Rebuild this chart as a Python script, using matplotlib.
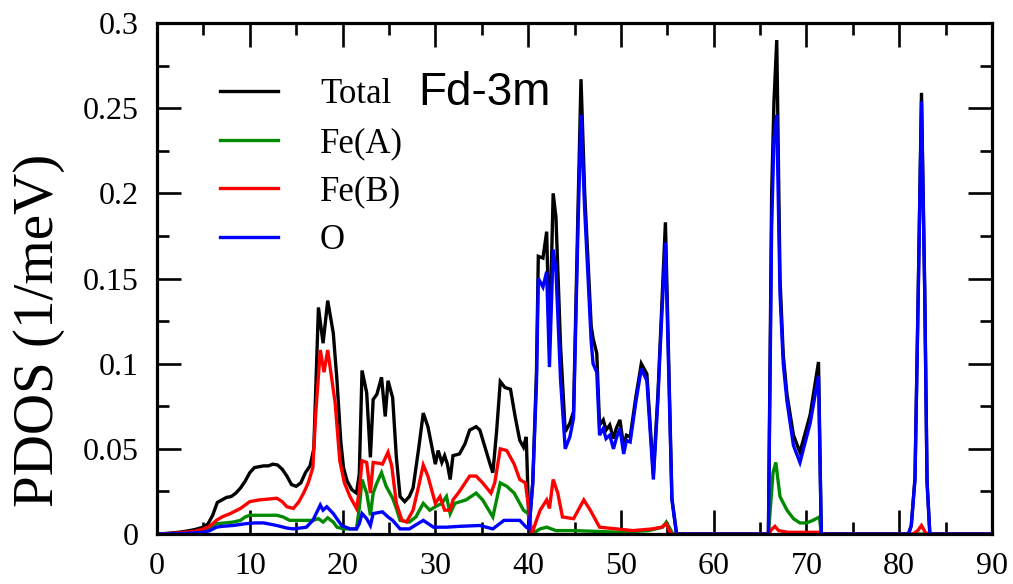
import matplotlib
matplotlib.use("Agg")
import matplotlib.pyplot as plt
from matplotlib.ticker import MultipleLocator, FuncFormatter

# Phonon partial density of states, Fd-3m magnetite
total_x = [0, 1, 2, 3, 4, 5, 5.5, 6, 6.5, 7, 7.5, 8, 8.5, 9, 9.5, 10, 10.5, 11, 11.5, 12,
           12.5, 13, 13.5, 14, 14.5, 15, 15.5, 16, 16.5, 16.9, 17.4, 17.9, 18.4, 19.0, 19.4,
           19.8, 20.1, 20.5, 21.0, 21.5, 21.8, 22.1, 22.6, 23.0, 23.3, 23.7, 24.2, 24.6, 24.9,
           25.4, 25.8, 26.2, 26.7, 27.2, 27.6, 28.2, 28.7, 29.2, 29.6, 30.0, 30.3, 30.7, 31.0,
           31.3, 31.6, 31.9, 32.6, 33.2, 33.7, 34.4, 34.8, 35.4, 35.9, 36.2, 36.6, 37.0, 37.5,
           38.1, 38.6, 39.1, 39.5, 39.8, 40.1, 40.5, 40.9, 41.1, 41.6, 42.0, 42.3, 42.7, 43.0,
           43.5, 44.0, 44.5, 44.9, 45.4, 45.7, 46.1, 46.8, 47.0, 47.4, 47.7, 48.1, 48.4, 48.8,
           49.2, 49.5, 49.9, 50.3, 50.6, 51.0, 51.6, 52.2, 52.8, 53.5, 54.0, 54.2, 54.8, 55.5,
           56.0, 65.9, 66.25, 66.5, 66.8, 67.15, 67.5, 67.9, 68.6, 69.3, 70.4, 71.3, 71.6,
           81.0, 81.3, 81.7, 82.05, 82.4, 82.75, 83.0, 83.3, 90]
total_y = [0, 0.0003, 0.0008, 0.0015, 0.0025, 0.004, 0.006, 0.011, 0.0185, 0.020, 0.0215,
           0.022, 0.024, 0.027, 0.031, 0.036, 0.039, 0.0395, 0.040, 0.040, 0.041, 0.0405,
           0.038, 0.034, 0.029, 0.028, 0.030, 0.036, 0.040, 0.050, 0.133, 0.112, 0.137,
           0.118, 0.090, 0.055, 0.039, 0.031, 0.026, 0.024, 0.035, 0.096, 0.083, 0.045,
           0.079, 0.082, 0.092, 0.069, 0.090, 0.080, 0.045, 0.022, 0.019, 0.022, 0.027,
           0.050, 0.071, 0.063, 0.052, 0.041, 0.049, 0.042, 0.046, 0.041, 0.032, 0.046,
           0.047, 0.053, 0.061, 0.063, 0.061, 0.050, 0.041, 0.036, 0.060, 0.0895, 0.086,
           0.085, 0.069, 0.055, 0.051, 0.057, 0.003, 0.030, 0.095, 0.163, 0.162, 0.1775,
           0.110, 0.200, 0.186, 0.110, 0.060, 0.065, 0.072, 0.196, 0.267, 0.200, 0.122,
           0.115, 0.106, 0.064, 0.067, 0.061, 0.064, 0.056, 0.062, 0.067, 0.051, 0.058,
           0.057, 0.080, 0.100, 0.094, 0.035, 0.083, 0.108, 0.183, 0.021, 0, 0, 0.200,
           0.254, 0.290, 0.150, 0.105, 0.082, 0.058, 0.048, 0.070, 0.101, 0, 0, 0.005,
           0.033, 0.143, 0.259, 0.143, 0.031, 0, 0]

feA_x = [0, 3, 5, 5.7, 6.4, 8.2, 9, 9.5, 10, 12.9, 13.6, 14.3, 15.4, 16.8, 17.4, 17.9, 18.4,
         19.0, 19.4, 20.1, 21.5, 21.8, 22.1, 22.6, 23.0, 23.3, 23.7, 24.2, 24.7, 25.4, 25.8,
         26.2, 27.2, 27.9, 28.7, 29.4, 30.0, 30.7, 31.2, 31.6, 32.1, 33.3, 34.4, 35.1, 36.2,
         37.0, 37.7, 38.5, 39.5, 40.0, 40.4, 41.3, 42.0, 43.0, 45.0, 50.0, 53.0, 54.5, 54.9,
         55.6, 65.9, 66.4, 66.7, 67.15, 67.9, 68.6, 69.3, 70.0, 70.7, 71.4, 71.6, 90]
feA_y = [0, 0.0005, 0.002, 0.0035, 0.006, 0.007, 0.008, 0.010, 0.011, 0.011, 0.010, 0.008,
         0.008, 0.008, 0.009, 0.007, 0.0095, 0.007, 0.004, 0.003, 0.003, 0.015, 0.032,
         0.024, 0.011, 0.024, 0.030, 0.036, 0.028, 0.021, 0.015, 0.008, 0.007, 0.010,
         0.018, 0.014, 0.016, 0.018, 0.022, 0.012, 0.018, 0.020, 0.024, 0.020, 0.010,
         0.030, 0.028, 0.024, 0.014, 0.012, 0.0, 0.003, 0.004, 0.002, 0.002, 0.001,
         0.002, 0.004, 0.007, 0, 0, 0.036, 0.042, 0.022, 0.014, 0.009, 0.0065, 0.0065,
         0.008, 0.010, 0, 0]

feB_x = [0, 2, 4, 5, 5.5, 6, 6.4, 7, 7.9, 9, 10, 11, 12, 12.9, 13.5, 14, 14.7, 15.3, 15.8,
         16.3, 16.8, 17.1, 17.6, 18.0, 18.4, 19.2, 19.7, 20.2, 20.8, 21.5, 21.8, 22.1, 22.6,
         23.0, 23.3, 24.0, 24.3, 24.9, 25.3, 25.8, 26.4, 26.9, 27.6, 28.2, 28.7, 29.2, 30.0,
         30.5, 31.0, 31.6, 31.9, 32.6, 33.7, 34.4, 35.1, 36.0, 36.4, 37.0, 37.7, 38.5, 39.1,
         39.7, 40.0, 40.4, 40.9, 41.3, 42.0, 42.3, 42.7, 43.2, 43.7, 44.9, 45.5, 46.0, 46.7,
         47.7, 49.5, 51.3, 53.4, 54.4, 54.9, 55.4, 65.9, 66.3, 66.6, 67.0, 68.0, 71.5, 71.6,
         81.5, 82.0, 82.4, 82.8, 83.2, 90]
feB_y = [0, 0.0005, 0.0015, 0.003, 0.004, 0.006, 0.008, 0.010, 0.012, 0.015, 0.019, 0.020,
         0.0205, 0.021, 0.019, 0.016, 0.015, 0.019, 0.024, 0.030, 0.039, 0.070, 0.108,
         0.095, 0.108, 0.077, 0.043, 0.030, 0.022, 0.015, 0.025, 0.043, 0.042, 0.024,
         0.042, 0.0415, 0.041, 0.048, 0.040, 0.018, 0.008, 0.007, 0.014, 0.028, 0.0405,
         0.034, 0.018, 0.022, 0.014, 0.014, 0.020, 0.025, 0.034, 0.034, 0.030, 0.024,
         0.030, 0.050, 0.049, 0.041, 0.032, 0.030, 0.018, 0.0, 0.008, 0.014, 0.020, 0.015,
         0.032, 0.024, 0.010, 0.009, 0.015, 0.020, 0.014, 0.004, 0.003, 0.002, 0.003,
         0.004, 0.006, 0, 0, 0.003, 0.0045, 0.002, 0.001, 0.001, 0, 0, 0.002, 0.005,
         0.001, 0, 0]

ox_x = [0, 3, 5, 5.7, 6.4, 7, 8.2, 9.5, 10.5, 11.5, 12.9, 14, 14.7, 16.1, 16.8, 17.6, 17.9,
        18.3, 19.0, 19.9, 20.8, 21.5, 21.8, 22.1, 22.6, 23.0, 23.3, 24.3, 24.9, 25.4, 26.2,
        27.2, 28.7, 29.8, 31.2, 32.6, 34.8, 36.2, 37.4, 39.1, 39.8, 40.1, 40.5, 40.9, 41.1,
        41.6, 42.0, 42.3, 42.7, 43.0, 43.5, 44.0, 44.5, 44.9, 45.4, 45.7, 46.1, 46.8, 47.0,
        47.4, 47.7, 48.1, 48.4, 48.8, 49.2, 49.5, 49.9, 50.3, 50.6, 51.0, 51.6, 52.2, 52.8,
        53.5, 54.0, 54.2, 54.8, 55.5, 56.0, 65.9, 66.25, 66.5, 66.8, 67.15, 67.5, 67.9,
        68.6, 69.3, 70.4, 71.3, 71.6, 81.0, 81.3, 81.7, 82.05, 82.4, 82.75, 83.0, 83.3, 90]
ox_y = [0, 0.0003, 0.001, 0.002, 0.004, 0.0045, 0.005, 0.006, 0.0065, 0.0065, 0.005,
        0.0035, 0.003, 0.004, 0.008, 0.017, 0.014, 0.016, 0.012, 0.005, 0.003, 0.003,
        0.006, 0.012, 0.009, 0.005, 0.012, 0.013, 0.010, 0.008, 0.003, 0.003, 0.008,
        0.004, 0.004, 0.0045, 0.005, 0.003, 0.008, 0.008, 0.004, 0.003, 0.030, 0.088,
        0.150, 0.145, 0.154, 0.098, 0.167, 0.155, 0.090, 0.050, 0.057, 0.068, 0.185,
        0.246, 0.190, 0.113, 0.100, 0.095, 0.058, 0.062, 0.056, 0.058, 0.050, 0.056,
        0.062, 0.047, 0.055, 0.054, 0.077, 0.097, 0.090, 0.032, 0.080, 0.105, 0.171,
        0.020, 0, 0, 0.181, 0.232, 0.246, 0.141, 0.100, 0.078, 0.052, 0.042, 0.065,
        0.093, 0, 0, 0.005, 0.032, 0.141, 0.254, 0.141, 0.030, 0, 0]

series_labels = ["Total", "Fe(A)", "Fe(B)", "O"]
series_colors = ["#000000", "#008a00", "#ff0000", "#0000ff"]
x_ticks = [0, 10, 20, 30, 40, 50, 60, 70, 80, 90]
y_ticks = [0, 0.05, 0.1, 0.15, 0.2, 0.25, 0.3]

serif = ["Liberation Serif", "DejaVu Serif"]

fig = plt.figure(figsize=(10.13, 5.84), dpi=100)
ax = fig.add_axes([157 / 1013, 50 / 584, 835 / 1013, 511 / 584])

data = [(total_x, total_y), (feA_x, feA_y), (feB_x, feB_y), (ox_x, ox_y)]
for (xs, ys), lab, col in zip(data, series_labels, series_colors):
    ax.plot(xs, ys, color=col, lw=2.4, label=lab, solid_joinstyle="miter")

ax.set_xlim(x_ticks[0], x_ticks[-1])
ax.set_ylim(y_ticks[0], y_ticks[-1])
ax.set_xticks(x_ticks)
ax.set_yticks(y_ticks)
ax.xaxis.set_minor_locator(MultipleLocator(5))
ax.yaxis.set_minor_locator(MultipleLocator(0.025))
ax.yaxis.set_major_formatter(FuncFormatter(lambda v, p: "%g" % round(v, 3)))

ax.tick_params(which="both", direction="in", top=True, right=True, width=1.9)
ax.tick_params(which="major", length=17)
ax.tick_params(which="minor", length=8.5)
ax.tick_params(axis="x", which="major", pad=13)
ax.tick_params(axis="y", which="major", pad=13)
for lab in ax.get_xticklabels() + ax.get_yticklabels():
    lab.set_fontfamily(serif)
    lab.set_fontsize(23)
for sp in ax.spines.values():
    sp.set_linewidth(2.3)

fig.text(39 / 1013, 1 - 330 / 584, "PDOS (1/meV)", rotation=90, ha="center", va="center",
         fontsize=41, family=serif)

leg = ax.legend(loc="upper left", bbox_to_anchor=(0.0587, 0.9188), frameon=False,
                prop={"family": serif, "size": 25}, handlelength=1.67,
                handletextpad=1.21, labelspacing=0.45, borderaxespad=0)

ax.text(0.3126, 0.8395, "Fd-3m", transform=ax.transAxes, ha="left", va="baseline",
        fontsize=33, family=["Liberation Sans", "DejaVu Sans"])

fig.savefig("out.png", dpi=100)
